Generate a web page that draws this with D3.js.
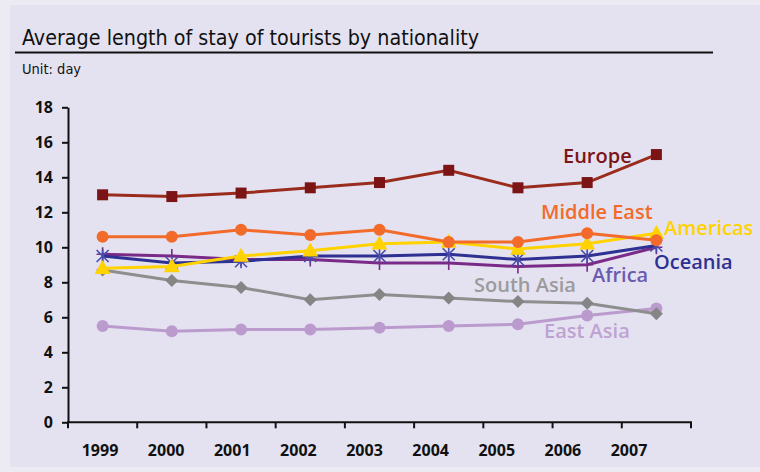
<!DOCTYPE html>
<html>
<head>
    <title>Average length of stay</title>
    <script src="https://d3js.org/d3.v7.min.js"></script>
    <style>
        body { margin: 0; background: #ecebf4; }
        svg { display: block; }
        .title { font-family: "DejaVu Sans Condensed", "Liberation Sans Narrow", "Open Sans", sans-serif; }
        .axis text { font-family: "Open Sans", sans-serif; font-weight: 700; font-size: 16px; fill: #111; }
        .axis path, .axis line { stroke: #111; stroke-width: 2; }
        .series-label { font-family: "Open Sans", sans-serif; font-weight: 600; font-size: 20px; }
    </style>
</head>
<body>
    <svg width="760" height="472"></svg>
    <script>
        // data
        var years = ["1999", "2000", "2001", "2002", "2003", "2004", "2005", "2006", "2007"];
        var yTicks = [0, 2, 4, 6, 8, 10, 12, 14, 16, 18];

        var europe     = [13.0, 12.9, 13.1, 13.4, 13.7, 14.4, 13.4, 13.7, 15.3];
        var middleEast = [10.6, 10.6, 11.0, 10.7, 11.0, 10.3, 10.3, 10.8, 10.4];
        var americas   = [8.8, 8.9, 9.5, 9.8, 10.2, 10.3, 9.9, 10.2, 10.8];
        var oceania    = [9.5, 9.1, 9.2, 9.5, 9.5, 9.6, 9.3, 9.5, 10.1];
        var africa     = [9.6, 9.5, 9.3, 9.3, 9.1, 9.1, 8.9, 9.0, 10.0];
        var southAsia  = [8.7, 8.1, 7.7, 7.0, 7.3, 7.1, 6.9, 6.8, 6.2];
        var eastAsia   = [5.5, 5.2, 5.3, 5.3, 5.4, 5.5, 5.6, 6.1, 6.5];

        var series = [
            {name: "Europe", values: europe, line: "#9a2c1e", marker: "#7c1416", text: "#7c1416", shape: "square", lx: 563, ly: 163},
            {name: "Middle East", values: middleEast, line: "#f26b2b", marker: "#f26b2b", text: "#f26b2b", shape: "circle", lx: 541, ly: 219},
            {name: "Americas", values: americas, line: "#ffd200", marker: "#ffd200", text: "#ffd200", shape: "triangle", lx: 664, ly: 235},
            {name: "Oceania", values: oceania, line: "#2e3192", marker: "#4a4cac", text: "#2e3192", shape: "asterisk", lx: 654, ly: 269},
            {name: "Africa", values: africa, line: "#7a2b88", marker: "#7a2b88", text: "#6a5bb0", shape: "plus", lx: 592, ly: 282},
            {name: "South Asia", values: southAsia, line: "#8e8e8e", marker: "#858585", text: "#9b9b9b", shape: "diamond", lx: 474, ly: 292},
            {name: "East Asia", values: eastAsia, line: "#bb9bcd", marker: "#bb9bcd", text: "#bfa2d3", shape: "circle", lx: 544, ly: 338}
        ];

        var svg = d3.select("svg");

        // panel
        svg.append("rect")
            .attr("x", 10).attr("y", 5)
            .attr("width", 750).attr("height", 462)
            .attr("fill", "#e4e2f0");

        svg.append("text")
            .attr("class", "title")
            .attr("x", 22).attr("y", 45)
            .style("font-size", "21.3px")
            .attr("fill", "#111")
            .text("Average length of stay of tourists by nationality");

        svg.append("line")
            .attr("x1", 15).attr("x2", 713)
            .attr("y1", 52.5).attr("y2", 52.5)
            .attr("stroke", "#111").attr("stroke-width", 2);

        svg.append("text")
            .attr("class", "title")
            .attr("x", 22).attr("y", 74)
            .style("font-size", "14.5px")
            .attr("fill", "#111")
            .text("Unit: day");

        var plotLeft = 68, plotRight = 691, plotTop = 107.3, plotBottom = 422.3;

        var x = d3.scaleBand().domain(years).range([plotLeft, plotRight]).padding(0);
        var xLabel = d3.scalePoint().domain(years).range([100, 629]);
        var y = d3.scaleLinear().domain([0, 18]).range([plotBottom, plotTop]);

        function cx(i) { return x(years[i]) + x.bandwidth() / 2; }

        // y axis
        svg.append("g")
            .attr("class", "axis")
            .attr("transform", "translate(" + plotLeft + ",0)")
            .call(d3.axisLeft(y).tickValues(yTicks).tickSize(6).tickSizeOuter(0).tickPadding(9));

        // x axis: ticks at band edges, labels at their own positions
        var xAxis = svg.append("g").attr("class", "axis");
        xAxis.append("line")
            .attr("x1", plotLeft - 1).attr("x2", plotRight + 1)
            .attr("y1", plotBottom).attr("y2", plotBottom);
        var edges = years.map(function(d) { return x(d); }).concat([x.range()[1]]);
        xAxis.selectAll(".edge")
            .data(edges)
            .enter().append("line")
            .attr("class", "edge")
            .attr("x1", function(d) { return d; }).attr("x2", function(d) { return d; })
            .attr("y1", plotBottom).attr("y2", plotBottom + 6);
        xAxis.selectAll(".xlab")
            .data(years)
            .enter().append("text")
            .attr("class", "xlab")
            .attr("x", function(d) { return xLabel(d); })
            .attr("y", 456)
            .attr("text-anchor", "middle")
            .text(function(d) { return d; });

        var line = d3.line()
            .x(function(d, i) { return cx(i); })
            .y(function(d) { return y(d); });

        function drawMarker(g, s, px, py) {
            if (s.shape === "square") {
                g.append("rect").attr("x", px - 5.5).attr("y", py - 5.5)
                    .attr("width", 11).attr("height", 11).attr("fill", s.marker);
            } else if (s.shape === "circle") {
                g.append("circle").attr("cx", px).attr("cy", py).attr("r", 6).attr("fill", s.marker);
            } else if (s.shape === "triangle") {
                g.append("path").attr("d", d3.symbol(d3.symbolTriangle, 110)())
                    .attr("transform", "translate(" + px + "," + (py + 1) + ")").attr("fill", s.marker);
            } else if (s.shape === "diamond") {
                g.append("path").attr("d", "M0,-6.5L6.5,0L0,6.5L-6.5,0Z")
                    .attr("transform", "translate(" + px + "," + py + ")").attr("fill", s.marker);
            } else if (s.shape === "asterisk") {
                g.append("path").attr("d", "M-6,-6L6,6M-6,6L6,-6M0,-7L0,7")
                    .attr("transform", "translate(" + px + "," + py + ")")
                    .attr("stroke", s.marker).attr("stroke-width", 1.6).attr("fill", "none");
            } else if (s.shape === "plus") {
                g.append("path").attr("d", "M-6,0L6,0M0,-7L0,7")
                    .attr("transform", "translate(" + px + "," + py + ")")
                    .attr("stroke", s.marker).attr("stroke-width", 1.6).attr("fill", "none");
            }
        }

        var plot = svg.append("g");
        var order = [6, 5, 4, 3, 2, 1, 0];
        order.forEach(function(k) {
            var s = series[k];
            var g = plot.append("g");
            g.append("path")
                .datum(s.values)
                .attr("d", line)
                .attr("fill", "none")
                .attr("stroke", s.line)
                .attr("stroke-width", 3);
            s.values.forEach(function(v, i) { drawMarker(g, s, cx(i), y(v)); });
        });

        svg.selectAll(".series-label")
            .data(series)
            .enter().append("text")
            .attr("class", "series-label")
            .attr("x", function(d) { return d.lx; })
            .attr("y", function(d) { return d.ly; })
            .attr("fill", function(d) { return d.text; })
            .text(function(d) { return d.name; });
    </script>
</body>
</html>
